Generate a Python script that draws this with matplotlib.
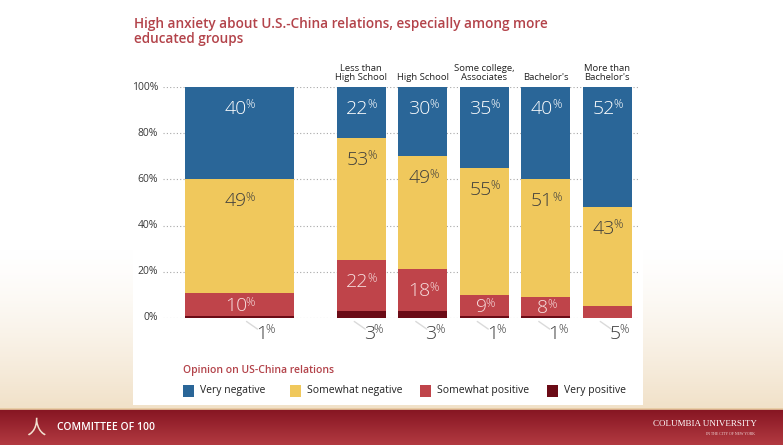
import matplotlib
matplotlib.use("Agg")
import matplotlib.pyplot as plt
import numpy as np
from matplotlib.patches import Rectangle
from matplotlib.colors import to_rgb

# ---------------- data ----------------
categories = ["Overall", "Less than\nHigh School", "High School",
              "Some college,\nAssociates", "Bachelor's", "More than\nBachelor's"]
very_positive = [1, 3, 3, 1, 1, 0]
somewhat_positive = [10, 22, 18, 9, 8, 5]
somewhat_negative = [49, 53, 49, 55, 51, 43]
very_negative = [40, 22, 30, 35, 40, 52]
bottom_labels = [1, 3, 3, 1, 1, 5]
yticks = [0, 20, 40, 60, 80, 100]
series_names = ["Very negative", "Somewhat negative", "Somewhat positive", "Very positive"]

title = "High anxiety about U.S.-China relations, especially among more\neducated groups"
legend_title = "Opinion on US-China relations"

# ---------------- style ----------------
FONT = ["Open Sans", "DejaVu Sans"]
plt.rcParams['font.family'] = FONT
C_BLUE = "#2a6698"
C_YEL = "#f0c85c"
C_RED = "#bf444a"
C_DRED = "#6b0b16"
C_TITLE = "#b3434a"
C_TXT = "#3a3a3a"

W, H = 783, 445
fig = plt.figure(figsize=(W / 100, H / 100), dpi=100)

# ---------------- background ----------------
bg = fig.add_axes([0, 0, 1, 1], zorder=-5)
bg.set_xlim(0, W)
bg.set_ylim(H, 0)
bg.axis("off")
n = 200
t = np.linspace(0, 1, n) ** 1.4
beige = np.array(to_rgb("#f1e1c8"))
white = np.ones(3)
grad = (white[None, :] * (1 - t[:, None]) + beige[None, :] * t[:, None])
img = np.repeat(grad[:, None, :], 2, axis=1)
bg.imshow(img, extent=(0, W, 410, 250), aspect="auto", origin="upper", zorder=0)
bg.add_patch(Rectangle((133, 0), 510, 405, facecolor="white", edgecolor="none", zorder=1))
t2 = np.linspace(0, 1, 60)
top = np.array(to_rgb("#861522"))
bot = np.array(to_rgb("#b23a41"))
g2 = top[None, :] * (1 - t2[:, None]) + bot[None, :] * t2[:, None]
img2 = np.repeat(g2[:, None, :], 2, axis=1)
bg.imshow(img2, extent=(0, W, H, 409), aspect="auto", origin="upper", zorder=2)
bg.plot([0, W], [409, 409], color="#e7c9a0", lw=1.2, zorder=3)
bg.text(57, 428, "COMMITTEE OF 100", color="white", fontsize=7.5, weight="semibold",
        va="center", ha="left", zorder=4)
bg.text(36, 428, "人", color="#f2e0d0", fontsize=14, va="center", ha="center", zorder=4,
        family=["Noto Sans CJK SC", "DejaVu Sans"])
bg.text(757, 424.5, "COLUMBIA UNIVERSITY", color="white", fontsize=6.5,
        family=["Liberation Serif", "DejaVu Serif"], va="center", ha="right", zorder=4)
bg.text(730, 434, "IN THE CITY OF NEW YORK", color="#f0d8d8", fontsize=2.8,
        family=["Liberation Serif", "DejaVu Serif"], va="center", ha="center", zorder=4)

# ---------------- main axes ----------------
PX = 61.5
PY = 231 / 100
x0_px, x1_px = 163, 640
ax = fig.add_axes([x0_px / W, 127 / H, (x1_px - x0_px) / W, 231 / H])
center0 = 239.5
ax.set_xlim((x0_px - center0) / PX, (x1_px - center0) / PX)
ax.set_ylim(0, 100)
ax.axis("off")

positions = [0, 1.98, 2.98, 3.98, 4.98, 5.98]
widths = [1.77, 0.8, 0.8, 0.8, 0.8, 0.8]

for yv in yticks:
    ax.axhline(yv, color="#a8a8a8", ls=(0, (1, 2)), lw=0.8, zorder=0)
    ax.text(-5 / (x1_px - x0_px), yv, f"{yv}%", transform=ax.get_yaxis_transform(),
            ha="right", va="center", fontsize=7.5, color=C_TXT, clip_on=False)

series = [very_positive, somewhat_positive, somewhat_negative, very_negative]
colors = [C_DRED, C_RED, C_YEL, C_BLUE]
bottoms = np.zeros(len(categories))
tops = []
for vals, col in zip(series, colors):
    vals = np.array(vals, dtype=float)
    ax.bar(positions, vals, width=widths, bottom=bottoms, color=col, zorder=2,
           linewidth=0)
    tops.append((bottoms.copy(), vals.copy()))
    bottoms = bottoms + vals


def pct_label(x, y, value, color, size=14.0):
    s = str(value)
    num_w = len(s) * 0.50 * size
    pct_w = 0.45 * size
    split = (num_w - pct_w) / 2 + 1.5
    dig_h = 0.714 * size
    psize = size * 0.6
    ax.annotate(s, (x, y), xytext=(split, -dig_h / 2), textcoords="offset points",
                ha="right", va="baseline", fontsize=size, color=color,
                weight="light", zorder=5, annotation_clip=False)
    ax.annotate("%", (x, y), xytext=(split - 0.9, dig_h / 2 - 0.714 * psize),
                textcoords="offset points", ha="left", va="baseline",
                fontsize=psize, color=color, weight="light", zorder=5,
                annotation_clip=False)


label_specs = [(3, "white"), (2, "#3d3d3d"), (1, "#f7dede")]
for idx, col in label_specs:
    b, v = tops[idx]
    for i, (bb, vv) in enumerate(zip(b, v)):
        if idx == 1 and vv < 8:
            continue
        if vv <= 0:
            continue
        top_v = bb + vv
        y = top_v - min(8.6, vv / 2)
        pct_label(positions[i], y, int(vv), col)

for i, val in enumerate(bottom_labels):
    off_px = 25 if i == 0 else 11
    lx = positions[i] + off_px / PX
    y_lab = -6.1
    ax.plot([lx - 18 / PX, lx - 7 / PX], [-1.5, -4.8], color="#dadada", lw=1.0,
            zorder=1, clip_on=False, solid_capstyle="round")
    pct_label(lx, y_lab, val, "#3d3d3d")

for i, cat in enumerate(categories):
    if i == 0:
        continue
    ax.text(positions[i], 100 + 4.5 / PY, cat, ha="center", va="bottom",
            fontsize=6.8, color="#222222", linespacing=1.05, clip_on=False)

fig.text(134 / W, 1 - 17 / H, title, ha="left", va="top", fontsize=9.8,
         weight="semibold", color=C_TITLE, linespacing=1.08)

fig.text(183 / W, 1 - 370 / H, legend_title, ha="left", va="center", fontsize=7.5,
         weight="semibold", color=C_TITLE)
leg_x = [183, 290, 420, 547]
leg_cols = [C_BLUE, C_YEL, C_RED, C_DRED]
for lx, name, col in zip(leg_x, series_names, leg_cols):
    bg.add_patch(Rectangle((lx, 385), 11, 12, facecolor=col, edgecolor="none", zorder=5))
    bg.text(lx + 17, 391, name, ha="left", va="center", fontsize=7.5, color="#222222",
            zorder=5)

fig.savefig("out.png", dpi=100)
